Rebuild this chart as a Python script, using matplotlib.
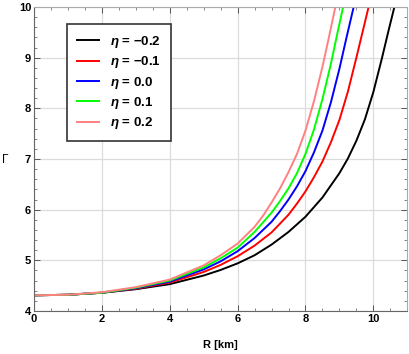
import numpy as np
import matplotlib.pyplot as plt
from matplotlib.ticker import MultipleLocator

plt.rcParams['font.family'] = ['Liberation Sans', 'DejaVu Sans']
plt.rcParams['mathtext.fontset'] = 'custom'
plt.rcParams['mathtext.rm'] = 'Liberation Sans'
plt.rcParams['mathtext.bf'] = 'Liberation Sans:bold'
plt.rcParams['mathtext.bfit'] = 'Liberation Sans:bold:italic'

# curves: R [km] -> Gamma
R_m02 = [0, 1, 2, 3, 4, 5, 5.5, 6, 6.5, 7, 7.5, 8, 8.5, 9, 9.25, 9.5, 9.75, 10, 10.25, 10.45, 10.62]
G_m02 = [4.31, 4.32, 4.36, 4.43, 4.53, 4.70, 4.81, 4.94, 5.10, 5.31, 5.56, 5.86, 6.24, 6.72, 7.01,
         7.36, 7.78, 8.32, 8.98, 9.54, 10.0]

R_m01 = [0, 1, 2, 3, 4, 5, 5.5, 6, 6.5, 7, 7.5, 7.75, 8, 8.25, 8.5, 8.75, 9, 9.25, 9.5, 9.68, 9.86]
G_m01 = [4.31, 4.32, 4.36, 4.44, 4.56, 4.77, 4.91, 5.08, 5.29, 5.55, 5.90, 6.12, 6.36, 6.64, 6.95,
         7.33, 7.77, 8.33, 9.0, 9.5, 10.0]

R_00 = [0, 1, 2, 3, 4, 5, 5.5, 6, 6.5, 7, 7.25, 7.5, 7.75, 8, 8.25, 8.5, 8.75, 9, 9.2, 9.42]
G_00 = [4.31, 4.32, 4.36, 4.45, 4.58, 4.82, 4.98, 5.18, 5.44, 5.76, 5.97, 6.20, 6.46, 6.76, 7.13,
        7.56, 8.12, 8.78, 9.37, 10.0]

R_p01 = [0, 1, 2, 3, 4, 5, 5.5, 6, 6.5, 7, 7.25, 7.5, 7.75, 8, 8.25, 8.5, 8.75, 8.93, 9.11]
G_p01 = [4.31, 4.32, 4.36, 4.46, 4.60, 4.86, 5.04, 5.25, 5.56, 5.94, 6.17, 6.42, 6.72, 7.10, 7.58,
         8.18, 8.88, 9.45, 10.0]

R_p02 = [0, 1, 2, 3, 4, 5, 5.5, 6, 6.5, 6.75, 7, 7.25, 7.5, 7.75, 8, 8.25, 8.5, 8.7, 8.88]
G_p02 = [4.31, 4.32, 4.37, 4.47, 4.62, 4.90, 5.10, 5.33, 5.66, 5.88, 6.14, 6.42, 6.74, 7.10, 7.56,
         8.14, 8.82, 9.43, 10.0]

labels = [r'$\mathbfit{\eta}$ = −0.2', r'$\mathbfit{\eta}$ = −0.1', r'$\mathbfit{\eta}$ = 0.0',
          r'$\mathbfit{\eta}$ = 0.1', r'$\mathbfit{\eta}$ = 0.2']
colors = ['black', '#ff0000', '#0000ff', '#00ff00', '#ff8080']
curves = [(R_m02, G_m02), (R_m01, G_m01), (R_00, G_00), (R_p01, G_p01), (R_p02, G_p02)]

fig = plt.figure(figsize=(4.09, 3.54), dpi=100)
ax = fig.add_axes([0.0831, 0.1215, 0.9127, 0.8588])

for (r, g), c, lab in zip(curves, colors, labels):
    ax.plot(r, g, color=c, lw=1.4, label=lab, solid_joinstyle='round')

ax.set_xlim(0, 11)
ax.set_ylim(4, 10)
ax.xaxis.set_major_locator(MultipleLocator(2))
ax.xaxis.set_minor_locator(MultipleLocator(0.5))
ax.yaxis.set_major_locator(MultipleLocator(1))
ax.yaxis.set_minor_locator(MultipleLocator(0.2))
ax.grid(True, which='major', color='#dcdcdc', lw=0.9)
ax.set_axisbelow(True)

ax.tick_params(which='both', direction='in', top=True, right=True, colors='#555555',
               labelcolor='black', labelsize=8, pad=2)
ax.tick_params(which='major', length=4, width=0.7)
ax.tick_params(which='minor', length=2, width=0.5)
for lbl in ax.get_xticklabels() + ax.get_yticklabels():
    lbl.set_fontweight('bold')

for s in ['left', 'bottom']:
    ax.spines[s].set_color('#666666')
    ax.spines[s].set_linewidth(0.8)
for s in ['top', 'right']:
    ax.spines[s].set_color('#aaaaaa')
    ax.spines[s].set_linewidth(0.8)

fig.text(220 / 409, 1 - 345 / 354, 'R [km]', ha='center', va='center',
         fontsize=8, fontweight='bold')
fig.text(5 / 409, 1 - 160 / 354, 'Γ', ha='center', va='center', fontsize=8.5)

leg = ax.legend(loc='upper left', bbox_to_anchor=(0.088, 0.944), borderaxespad=0,
                fancybox=False, framealpha=1, edgecolor='#333333',
                prop={'weight': 'bold', 'size': 9.5},
                handlelength=1.65, handletextpad=0.85, labelspacing=0.33,
                borderpad=0.75)
leg.get_frame().set_linewidth(1.2)

fig.savefig('out.png', dpi=100)
